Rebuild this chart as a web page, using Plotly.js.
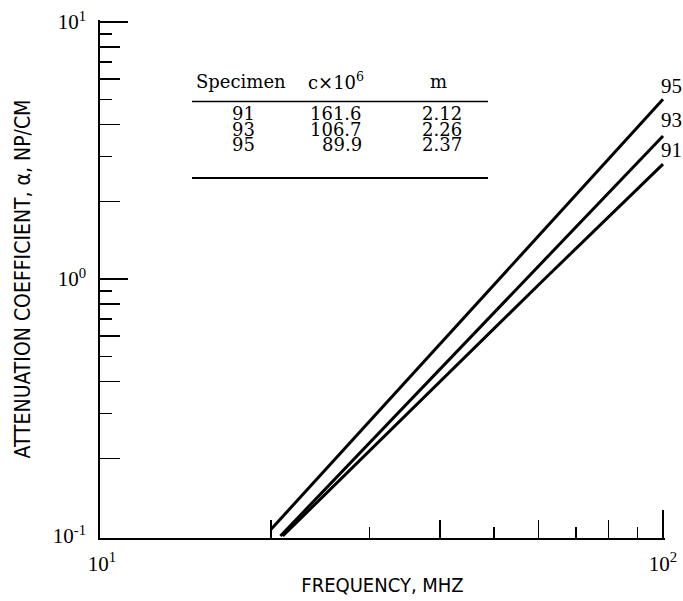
<!DOCTYPE html>
<html>
<head>
<meta charset="utf-8">
<script src="https://cdn.plot.ly/plotly-3.0.1.min.js"></script>
<style>html,body{margin:0;padding:0;background:#fff;}#chart{width:683px;height:601px;}</style>
</head>
<body>
<div id="chart"></div>
<script>
// ---- data ----
const specimenLabels = ['95', '93', '91'];
const freq95 = [20, 51, 100];
const att95  = [0.106, 1.0, 5.0];
const freq93 = [20.8, 57, 100];
const att93  = [0.1, 1.0, 3.6];
const freq91 = [21.0, 61.5, 100];
const att91  = [0.1, 1.0, 2.8];

// table content
const tableHeader = ['Specimen', 'c×10<sup>6</sup>', 'm'];
const tableSpecimen = ['91', '93', '95'];
const tableC = ['161.6', '106.7', '89.9'];
const tableM = ['2.12', '2.26', '2.37'];

// axis ticks
const xMajor = [10, 100];
const xMajorText = ['10<sup>1</sup>', '10<sup>2</sup>'];
const xDecadeTicks = [100];
const xEven = [20, 40, 60, 80];
const xOdd = [30, 50, 70, 90];
const yMajor = [0.1, 1, 10];
const yMajorText = ['10<sup>-1</sup>', '10<sup>0</sup>', '10<sup>1</sup>'];
const yDecadeTicks = [1, 10];
const yEven = [0.2, 0.4, 0.6, 0.8, 2, 4, 6, 8];
const yOdd = [0.3, 0.5, 0.7, 0.9, 3, 5, 7, 9];

// ---- layout helpers ----
// plot area (slightly padded so the decade ticks at the ends are drawn)
const L = 100, R = 665, T = 20, B = 538;
const W = 683, H = 601;
const xPad = 2 / 561, yPad = 2 / 257;
const xRange = [1 - xPad, 2 + xPad];
const yRange = [-1 - yPad, 1 + yPad];
const px = x => (x - L) / (R - L);
const py = y => (B - y) / (B - T);

const serifNum = {family: 'Liberation Serif, Times New Roman, serif', size: 21, color: '#000'};
const tableFont = {family: 'DejaVu Serif, serif', size: 18, color: '#000'};
const sansCondX = {family: 'DejaVu Sans Condensed, DejaVu Sans, sans-serif', size: 20, color: '#000'};
const sansCondY = {family: 'DejaVu Sans Condensed, DejaVu Sans, sans-serif', size: 21, color: '#000'};

const lineStyle = {color: '#000', width: 3};
const carrier = (xa, ya) => ({x: [xMajor[0]], y: [yMajor[0]], mode: 'lines', xaxis: xa, yaxis: ya, hoverinfo: 'skip', showlegend: false});
const traces = [
  {x: freq95, y: att95, mode: 'lines', line: lineStyle, hoverinfo: 'skip', showlegend: false},
  {x: freq93, y: att93, mode: 'lines', line: lineStyle, hoverinfo: 'skip', showlegend: false},
  {x: freq91, y: att91, mode: 'lines', line: lineStyle, hoverinfo: 'skip', showlegend: false},
  // carriers so the overlaid tick-only axes are drawn (a single point draws no line)
  carrier('x2', 'y'), carrier('x3', 'y'), carrier('x4', 'y'),
  carrier('x', 'y2'), carrier('x', 'y3'), carrier('x', 'y4')
];

const ends = [
  {f: freq95, a: att95, ys: 13},
  {f: freq93, a: att93, ys: 16},
  {f: freq91, a: att91, ys: 14}
];
const annotations = [];
ends.forEach((e, i) => {
  annotations.push({
    xref: 'x', yref: 'y',
    x: Math.log10(e.f[e.f.length - 1]), y: Math.log10(e.a[e.a.length - 1]),
    text: specimenLabels[i], showarrow: false,
    xanchor: 'center', yanchor: 'middle', xshift: 8, yshift: e.ys,
    font: serifNum
  });
});

// table text
annotations.push({xref: 'paper', yref: 'paper', x: px(241), y: py(81), text: tableHeader[0], showarrow: false, xanchor: 'center', yanchor: 'middle', font: tableFont});
annotations.push({xref: 'paper', yref: 'paper', x: px(336), y: py(81), text: tableHeader[1], showarrow: false, xanchor: 'center', yanchor: 'middle', font: tableFont});
annotations.push({xref: 'paper', yref: 'paper', x: px(438), y: py(81), text: tableHeader[2], showarrow: false, xanchor: 'center', yanchor: 'middle', font: tableFont});
const rowY = [114, 129, 144];
tableSpecimen.forEach((s, i) => {
  annotations.push({xref: 'paper', yref: 'paper', x: px(243), y: py(rowY[i]), text: s, showarrow: false, xanchor: 'center', yanchor: 'middle', font: tableFont});
  annotations.push({xref: 'paper', yref: 'paper', x: px(364), y: py(rowY[i]), text: tableC[i], showarrow: false, xanchor: 'right', yanchor: 'middle', font: tableFont});
  annotations.push({xref: 'paper', yref: 'paper', x: px(442), y: py(rowY[i]), text: tableM[i], showarrow: false, xanchor: 'center', yanchor: 'middle', font: tableFont});
});

const shapes = [
  {type: 'line', xref: 'paper', yref: 'paper', x0: px(192), x1: px(488), y0: py(101.5), y1: py(101.5), line: {color: '#000', width: 1.5}},
  {type: 'line', xref: 'paper', yref: 'paper', x0: px(192), x1: px(488), y0: py(178), y1: py(178), line: {color: '#000', width: 2}}
];

const tickAxisBase = {type: 'log', showgrid: false, zeroline: false, showline: false, ticks: 'inside', tickcolor: '#000', tickwidth: 1.5, showticklabels: false, tickmode: 'array', fixedrange: true};

const layout = {
  width: W, height: H,
  margin: {l: L, r: W - R, t: T, b: H - B},
  paper_bgcolor: '#fff', plot_bgcolor: '#fff',
  showlegend: false,
  xaxis: {
    type: 'log', range: xRange, showgrid: false, zeroline: false,
    showline: true, linecolor: '#000', linewidth: 1.8,
    ticks: '', tickmode: 'array', tickvals: xMajor, ticktext: xMajorText,
    tickfont: serifNum, ticklabelstandoff: 6,
    title: {text: 'FREQUENCY, MHZ', font: sansCondX, standoff: 3},
    fixedrange: true
  },
  xaxis2: Object.assign({}, tickAxisBase, {range: xRange, overlaying: 'x', anchor: 'y', side: 'bottom', tickvals: xEven, ticklen: 18}),
  xaxis3: Object.assign({}, tickAxisBase, {range: xRange, overlaying: 'x', anchor: 'y', side: 'bottom', tickvals: xOdd, ticklen: 11}),
  xaxis4: Object.assign({}, tickAxisBase, {range: xRange, overlaying: 'x', anchor: 'y', side: 'bottom', tickvals: xDecadeTicks, ticklen: 28, tickwidth: 1.8}),
  yaxis: {
    type: 'log', range: yRange, showgrid: false, zeroline: false,
    showline: true, linecolor: '#000', linewidth: 1.8,
    ticks: '', tickmode: 'array', tickvals: yMajor, ticktext: yMajorText,
    tickfont: serifNum, ticklabelstandoff: 8,
    title: {text: 'ATTENUATION COEFFICIENT, α, NP/CM', font: sansCondY, standoff: 16},
    fixedrange: true
  },
  yaxis2: Object.assign({}, tickAxisBase, {range: yRange, overlaying: 'y', anchor: 'x', side: 'left', tickvals: yEven, ticklen: 20}),
  yaxis3: Object.assign({}, tickAxisBase, {range: yRange, overlaying: 'y', anchor: 'x', side: 'left', tickvals: yOdd, ticklen: 12}),
  yaxis4: Object.assign({}, tickAxisBase, {range: yRange, overlaying: 'y', anchor: 'x', side: 'left', tickvals: yDecadeTicks, ticklen: 28, tickwidth: 1.8}),
  annotations: annotations,
  shapes: shapes
};

Plotly.newPlot('chart', traces, layout, {staticPlot: true, displayModeBar: false});
</script>
</body>
</html>
